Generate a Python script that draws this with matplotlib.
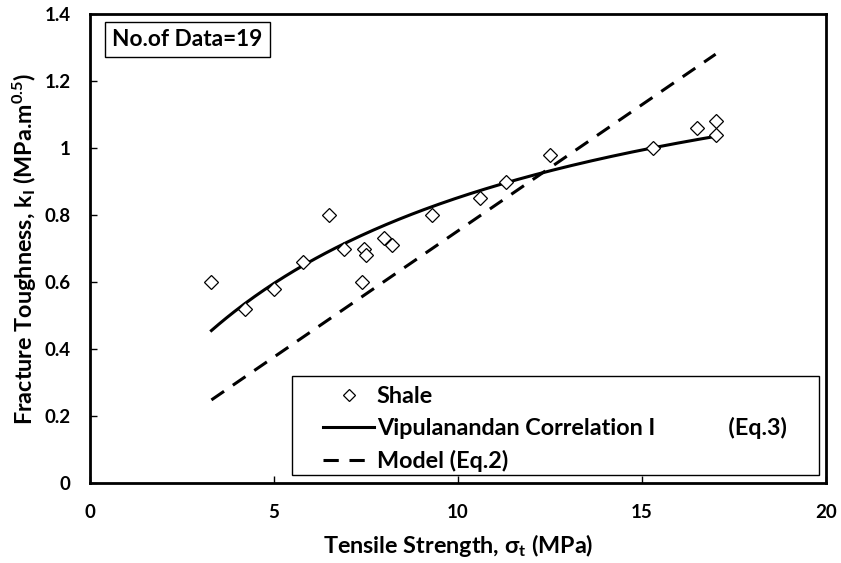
import numpy as np
import matplotlib
matplotlib.use("Agg")
import matplotlib.pyplot as plt
from matplotlib.patches import Rectangle

plt.rcParams['font.family'] = ['Lato', 'DejaVu Sans']
plt.rcParams['font.weight'] = 'bold'
plt.rcParams['axes.labelweight'] = 'bold'
plt.rcParams['mathtext.fontset'] = 'custom'
plt.rcParams['mathtext.rm'] = 'Lato:bold'
plt.rcParams['mathtext.it'] = 'Lato:bold'
plt.rcParams['mathtext.bf'] = 'Lato:bold'
plt.rcParams['mathtext.default'] = 'rm'
plt.rcParams['mathtext.fallback'] = 'stix'

# Measured shale data: tensile strength (MPa) vs fracture toughness (MPa.m^0.5)
tensile_strength = [3.3, 4.2, 5.0, 5.8, 6.5, 6.9, 7.4, 7.45, 7.5, 8.0, 8.2,
                    9.3, 10.6, 11.3, 12.5, 15.3, 16.5, 17.0, 17.0]
fracture_toughness = [0.60, 0.52, 0.58, 0.66, 0.80, 0.70, 0.60, 0.70, 0.68, 0.73, 0.71,
                      0.80, 0.85, 0.90, 0.98, 1.00, 1.06, 1.08, 1.04]

# Vipulanandan correlation: k = sigma / (A + B*sigma)
vip_A = 5.04
vip_B = 0.670
vip_range = [3.3, 17.0]

# Linear model (Eq.2) end points
model_sigma = [3.3, 17.0]
model_k = [0.248, 1.28]

x_ticks = [0, 5, 10, 15, 20]
y_ticks = [0, 0.2, 0.4, 0.6, 0.8, 1.0, 1.2, 1.4]
y_ticklabels = ['0', '0.2', '0.4', '0.6', '0.8', '1', '1.2', '1.4']

fig = plt.figure(figsize=(8.41, 5.63), dpi=100)
ax = fig.add_axes([90 / 841, 1 - 483 / 563, 736 / 841, 469 / 563])

ax.plot(tensile_strength, fracture_toughness, linestyle='none', marker='D',
        markersize=7, markerfacecolor='white', markeredgecolor='black',
        markeredgewidth=0.9, label='Shale', zorder=3)

sig = np.linspace(vip_range[0], vip_range[1], 200)
ax.plot(sig, sig / (vip_A + vip_B * sig), color='black', linewidth=2.2,
        label='Vipulanandan Correlation I' + ' ' * 13 + '(Eq.3)', zorder=2)

ax.plot(model_sigma, model_k, color='black', linewidth=2.2, linestyle=(0, (5, 3.5)),
        label='Model (Eq.2)', zorder=2)

ax.set_xlim(0, 20)
ax.set_ylim(0, 1.4)
ax.set_xticks(x_ticks)
ax.set_yticks(y_ticks)
ax.set_yticklabels(y_ticklabels)
ax.tick_params(direction='in', length=5, width=1, labelsize=13.5)
ax.tick_params(axis='x', pad=15)
ax.tick_params(axis='y', pad=14)
for lbl in ax.get_xticklabels() + ax.get_yticklabels():
    lbl.set_fontweight('bold')
for s in ax.spines.values():
    s.set_linewidth(2)

ax.set_xlabel(r'Tensile Strength, $\sigma_t$ (MPa)', fontsize=16.8, labelpad=8)
ax.set_ylabel(r'Fracture Toughness, k$_I$ (MPa.m$^{0.5}$)', fontsize=16.8, labelpad=4)

ax.text(0.030, 0.968, 'No.of Data=19', transform=ax.transAxes, fontsize=16.3,
        va='top', ha='left',
        bbox=dict(boxstyle='square,pad=0.33', facecolor='white', edgecolor='black', linewidth=1))

# legend frame drawn as its own box, entries placed inside without a frame
ax.add_patch(Rectangle((0.274, 0.017), 0.9905 - 0.274, 0.228 - 0.017,
                       transform=ax.transAxes, facecolor='white', edgecolor='black',
                       linewidth=1, zorder=4))
leg = ax.legend(loc='upper left', bbox_to_anchor=(0.3166, 0.2075),
                prop={'size': 16.8, 'weight': 'bold'}, frameon=False,
                handlelength=2.2, handletextpad=0.1, labelspacing=0.45,
                borderpad=0, borderaxespad=0, markerscale=0.85)
leg.set_zorder(5)

fig.savefig('out.png', dpi=100)
